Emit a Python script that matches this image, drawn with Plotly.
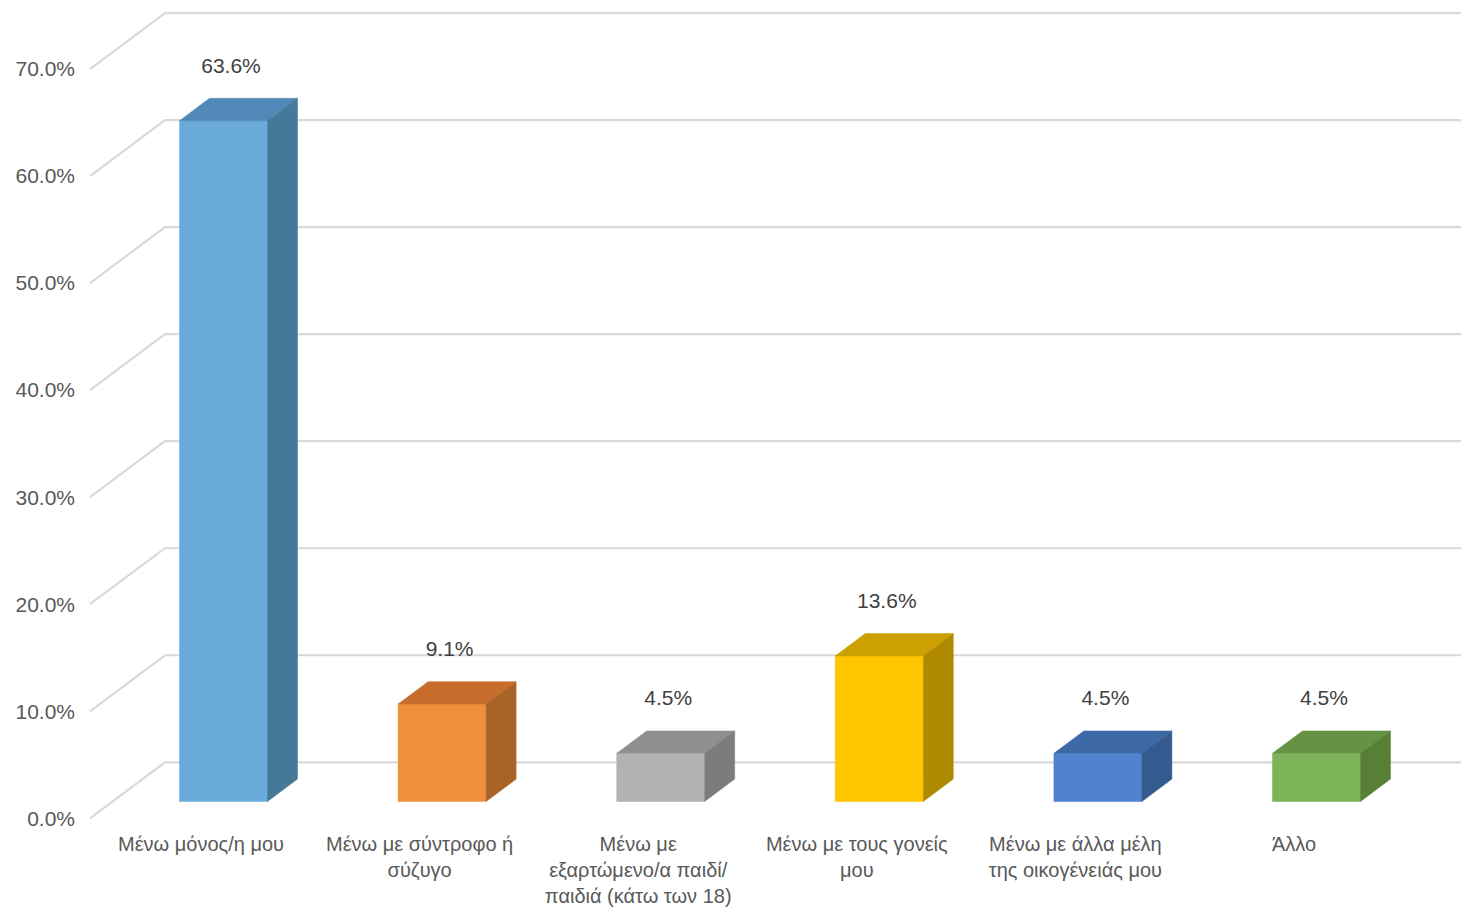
import plotly.graph_objects as go

# ---- data ----
categories = [
    "Μένω μόνος/η μου",
    "Μένω με σύντροφο ή<br>σύζυγο",
    "Μένω με<br>εξαρτώμενο/α παιδί/<br>παιδιά (κάτω των 18)",
    "Μένω με τους γονείς<br>μου",
    "Μένω με άλλα μέλη<br>της οικογένειάς μου",
    "Άλλο",
]
values = [63.6, 9.1, 4.5, 13.6, 4.5, 4.5]
tick_values = [0, 10, 20, 30, 40, 50, 60, 70]
tick_labels = [f"{v:.1f}%" for v in tick_values]

front_colors = ["#6AAADA", "#EF8E3C", "#B2B2B2", "#FFC600", "#5082CE", "#7DB358"]
top_colors = ["#5088B8", "#C86C2C", "#8F8F8F", "#CCA000", "#3D6AA6", "#669244"]
side_colors = ["#467898", "#A86426", "#7C7C7C", "#B08A00", "#345A8F", "#587F36"]

# ---- 3D projection constants (axis units) ----
X_MIN, X_MAX = -0.517, 5.764
Y_MIN, Y_MAX = -1.0, 75.98
WALL_DX, WALL_DY = 0.343, 5.23     # depth of the box
BAR_W = 0.4026
BAR_D0, BAR_D1 = 0.3, 0.7          # bar depth span (fraction of wall depth)
WALL_LEFT = -0.508
WALL_RIGHT = X_MAX + 0.2           # runs off the right edge (clipped)

def proj(x, y, d):
    return x + d * WALL_DX, y + d * WALL_DY

fig = go.Figure()

grid_color = "#D9D9D9"
for v in tick_values:
    p0 = proj(WALL_LEFT, v, 0)
    p1 = proj(WALL_LEFT, v, 1)
    fig.add_trace(go.Scatter(
        x=[p0[0], p1[0], WALL_RIGHT], y=[p0[1], p1[1], p1[1]],
        mode="lines", line=dict(color=grid_color, width=2.2),
        hoverinfo="skip", showlegend=False))

for i, v in enumerate(values):
    xc = i
    x0 = xc - BAR_W / 2
    x1 = xc + BAR_W / 2
    a = proj(x0, 0, BAR_D0); b = proj(x1, 0, BAR_D0)
    c = proj(x1, v, BAR_D0); d = proj(x0, v, BAR_D0)
    bb = proj(x1, 0, BAR_D1); bc = proj(x1, v, BAR_D1); bd = proj(x0, v, BAR_D1)
    fig.add_trace(go.Scatter(
        x=[a[0], b[0], c[0], d[0], a[0]], y=[a[1], b[1], c[1], d[1], a[1]],
        fill="toself", fillcolor=front_colors[i], mode="lines",
        line=dict(color=front_colors[i], width=0.5),
        hoverinfo="skip", showlegend=False))
    fig.add_trace(go.Scatter(
        x=[d[0], c[0], bc[0], bd[0], d[0]], y=[d[1], c[1], bc[1], bd[1], d[1]],
        fill="toself", fillcolor=top_colors[i], mode="lines",
        line=dict(color=top_colors[i], width=0.5),
        hoverinfo="skip", showlegend=False))
    fig.add_trace(go.Scatter(
        x=[b[0], bb[0], bc[0], c[0], b[0]], y=[b[1], bb[1], bc[1], c[1], b[1]],
        fill="toself", fillcolor=side_colors[i], mode="lines",
        line=dict(color=side_colors[i], width=0.5),
        hoverinfo="skip", showlegend=False))

# data labels
lab_x = [i + 0.4 * WALL_DX for i in range(len(values))]
lab_y = [v + BAR_D1 * WALL_DY + 2.9 for v in values]
fig.add_trace(go.Scatter(
    x=lab_x, y=lab_y, mode="text",
    text=[f"{v:.1f}%" for v in values], textposition="middle center",
    textfont=dict(family="Liberation Sans, Arial, sans-serif", size=21, color="#404040"),
    hoverinfo="skip", showlegend=False, cliponaxis=False))

tick_font = dict(family="Liberation Sans, Arial, sans-serif", size=21, color="#595959")
cat_font = dict(family="Liberation Sans, Arial, sans-serif", size=20, color="#595959")
fig.update_layout(
    width=1461, height=911,
    margin=dict(l=88, r=0, t=5, b=82),
    paper_bgcolor="white", plot_bgcolor="white",
    font=tick_font,
    showlegend=False,
    hovermode=False,
    xaxis=dict(range=[X_MIN, X_MAX], tickvals=list(range(len(categories))),
               ticktext=categories, showgrid=False, zeroline=False, showline=False,
               ticks="", ticklabelstandoff=1, tickfont=cat_font, fixedrange=True),
    yaxis=dict(range=[Y_MIN, Y_MAX], tickvals=tick_values, ticktext=tick_labels,
               showgrid=False, zeroline=False, showline=False, ticks="",
               ticklabelstandoff=12, tickfont=tick_font, fixedrange=True),
)
fig.write_html(
    "out.html",
    config={"displayModeBar": False, "staticPlot": True},
    post_script="document.body.style.margin='0';document.body.style.overflow='hidden';",
)
